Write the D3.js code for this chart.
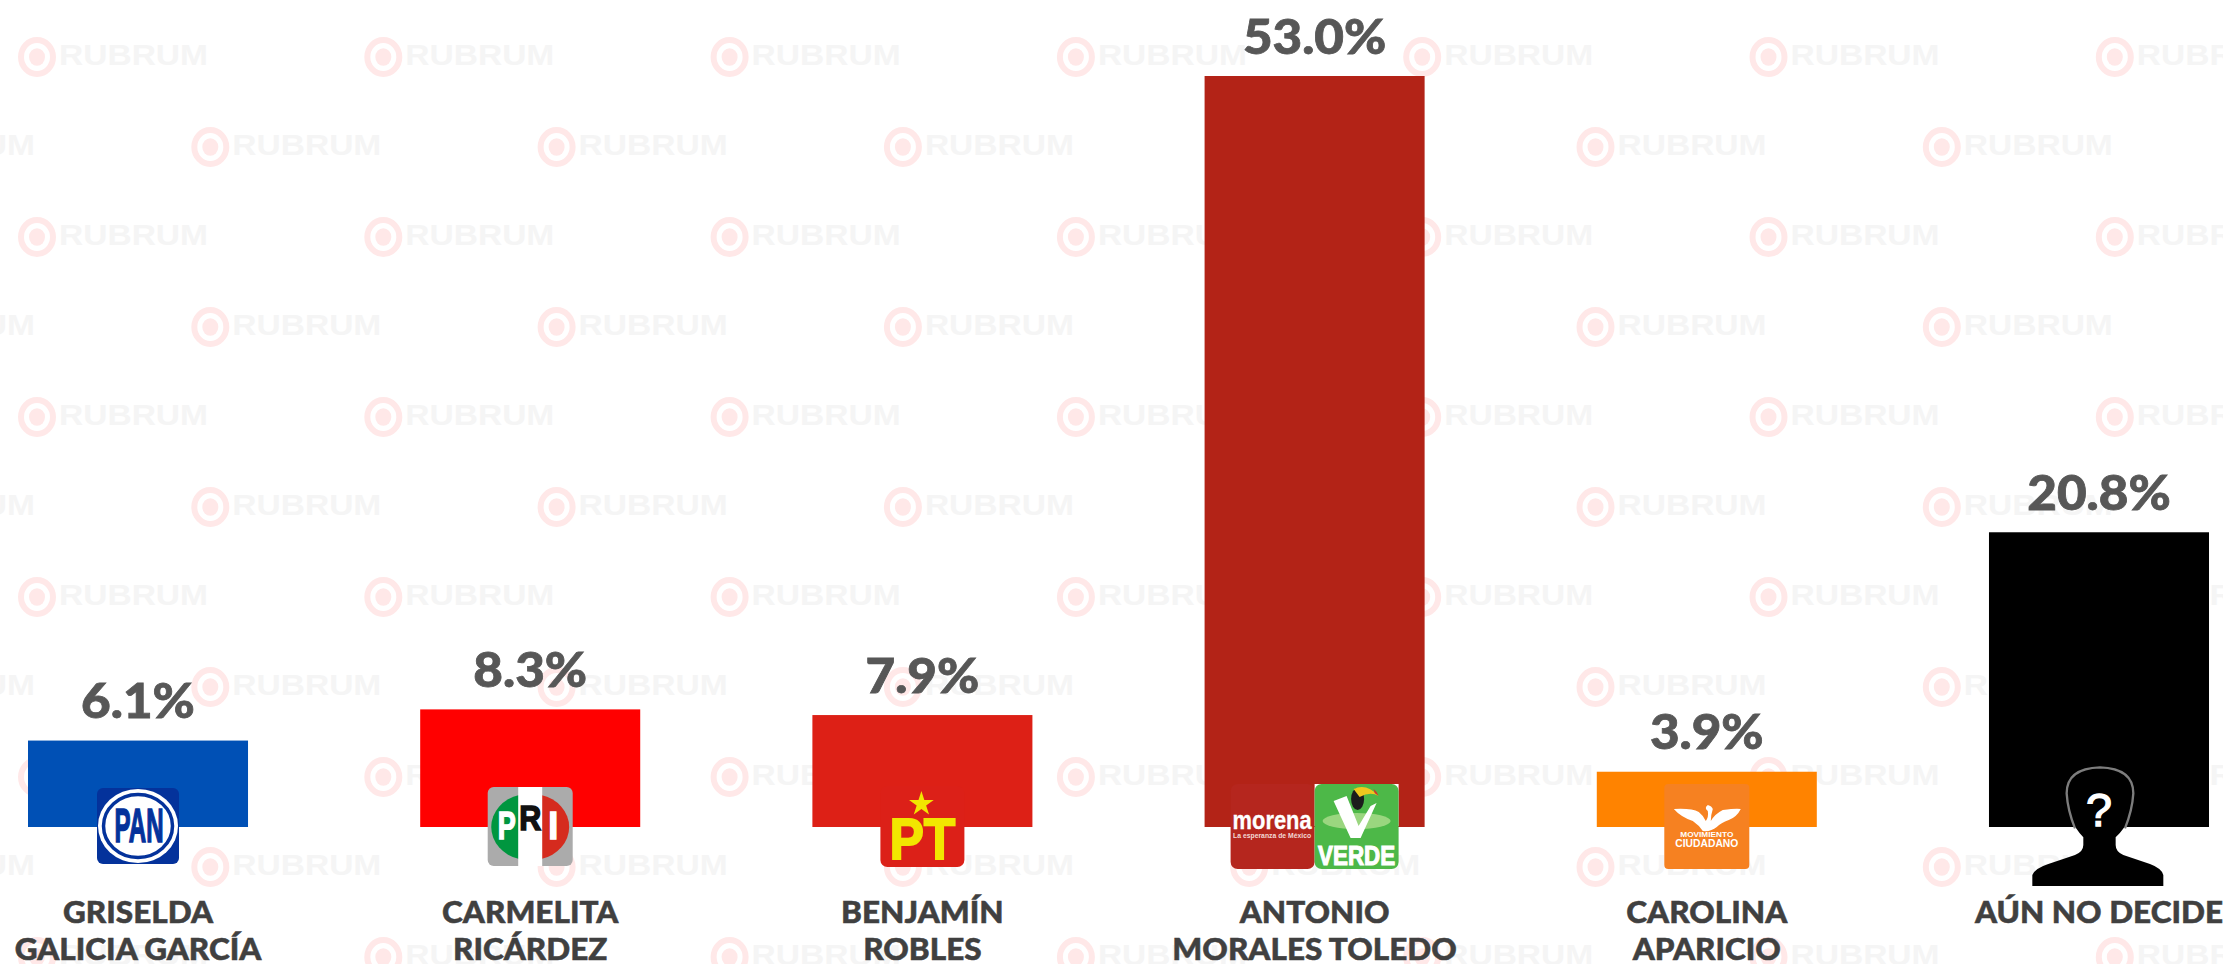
<!DOCTYPE html>
<html lang="es">
<head>
<meta charset="utf-8">
<script src="https://cdn.jsdelivr.net/npm/d3@7"></script>
<style>
html,body{margin:0;padding:0;background:#fff;overflow:hidden}
svg{display:block}
</style>
</head>
<body>
<svg id="chart" width="2223" height="964"></svg>
<script>
const categories = ["PAN","PRI","PT","MORENA-VERDE","MC","NINGUNO"];
const nameLine1 = ["GRISELDA","CARMELITA","BENJAMÍN","ANTONIO","CAROLINA","AÚN NO DECIDE"];
const nameLine2 = ["GALICIA GARCÍA","RICÁRDEZ","ROBLES","MORALES TOLEDO","APARICIO",""];
const values = [6.1,8.3,7.9,53.0,3.9,20.8];
const barColors = ["#0050b5","#ff0000","#dd2016","#b32317","#ff8300","#000000"];

const W = 2223, H = 964, BASE = 827;
const FONT = "Lato, 'Open Sans', sans-serif";
const svg = d3.select("#chart");

/* watermark */
const wm = svg.append("g");
const wmRows = d3.range(0,11), wmCols = d3.range(-1,7);
wmRows.forEach(r => wmCols.forEach(c => {
  const x = 37 + c*346.3 + (r%2 ? 173.3 : 0), y = 57 + r*90;
  const g = wm.append("g").attr("transform",`translate(${x},${y})`);
  g.append("ellipse").attr("rx",16).attr("ry",17).attr("fill","none").attr("stroke","#ffe8e8").attr("stroke-width",6);
  g.append("ellipse").attr("rx",8).attr("ry",8.7).attr("fill","#ffe8e8");
  g.append("text").attr("x",22).attr("y",8).attr("font-family","'Liberation Sans',sans-serif").attr("font-weight",700)
    .attr("font-size",29).attr("textLength",149).attr("lengthAdjust","spacingAndGlyphs").attr("fill","#f5f5f5").text("RUBRUM");
}));

/* scales */
const x = d3.scaleBand().domain(categories).range([28,2209]).paddingInner(0.439).paddingOuter(0);
const y = d3.scaleLinear().domain([0,53]).range([BASE,76]);

/* bars */
svg.append("g").selectAll("rect").data(categories).join("rect")
  .attr("x",d=>x(d)).attr("width",x.bandwidth())
  .attr("y",(d,i)=>y(values[i])).attr("height",(d,i)=>y(0)-y(values[i]))
  .attr("fill",(d,i)=>barColors[i]);

/* stretches a text horizontally, as the heavier geometric typeface of the reference is wider than Lato */
function widen(sel,f){
  sel.each(function(){ const n=this; n.setAttribute("lengthAdjust","spacingAndGlyphs");
    n.setAttribute("textLength",n.getComputedTextLength()*f); });
}

/* value labels */
svg.append("g").selectAll("text").data(categories).join("text")
  .attr("x",d=>x(d)+x.bandwidth()/2).attr("y",(d,i)=>y(values[i])-22.5)
  .attr("text-anchor","middle").attr("font-family",FONT).attr("font-weight",900)
  .attr("font-size",48).attr("fill","#575757").attr("stroke","#575757").attr("stroke-width",0.8)
  .text((d,i)=>values[i].toFixed(1)+"%").call(widen,1.065);

/* name labels */
const names = svg.append("g");
categories.forEach((d,i)=>{
  const cx = x(d)+x.bandwidth()/2;
  [[nameLine1[i],923],[nameLine2[i],960]].forEach(([t,yy])=>{
    if(t) names.append("text").attr("x",cx).attr("y",yy).attr("text-anchor","middle")
      .attr("font-family",FONT).attr("font-weight",900).attr("font-size",30).attr("fill","#404040")
      .attr("stroke","#404040").attr("stroke-width",0.5).text(t).call(widen,1.05);
  });
});

/* party logos, in coordinates relative to the bar centre and baseline */
const logos = svg.append("g");
const cxOf = k => x(k)+x.bandwidth()/2;
const LOG = "'Liberation Sans',sans-serif";
function T(g,s,xx,yy,len,size,fill,sw=0){
  return g.append("text").attr("x",xx).attr("y",yy).attr("text-anchor","middle").attr("font-family",LOG)
   .attr("font-weight",700).attr("font-size",size).attr("textLength",len).attr("lengthAdjust","spacingAndGlyphs")
   .attr("fill",fill).attr("stroke",sw?fill:"none").attr("stroke-width",sw).text(s);
}
function R(g,xx,yy,w,h,fill,r=5){return g.append("rect").attr("x",xx).attr("y",yy).attr("width",w).attr("height",h).attr("rx",r).attr("fill",fill);}

/* PAN */
{ const g = logos.append("g").attr("transform",`translate(${cxOf("PAN")},${BASE})`);
  R(g,-41,-39,82,76,"#04329b",6);
  g.append("ellipse").attr("cy",-1).attr("rx",40).attr("ry",37).attr("fill","#fff");
  g.append("ellipse").attr("cy",-1).attr("rx",34.5).attr("ry",31.5).attr("fill","none").attr("stroke","#04329b").attr("stroke-width",3.5);
  T(g,"PAN",1,15,49,48,"#04329b",1.6);
}
/* PRI */
{ const g = logos.append("g").attr("transform",`translate(${cxOf("PRI")},${BASE})`);
  R(g,-42.5,-40,85,79,"#ababab",6);
  g.append("path").attr("d","M-11,-32 A37,33 0 0 0 -11,32 Z").attr("fill","#00963f");
  g.append("path").attr("d","M11,-32 A37,33 0 0 1 11,32 Z").attr("fill","#d52b1e");
  g.append("rect").attr("x",-12).attr("y",-40).attr("width",24).attr("height",79).attr("fill","#fff");
  T(g,"P",-23.5,12,18,38,"#fff",1.5);
  T(g,"R",0,3,22,35,"#111",1.6);
  T(g,"I",23,12,10,38,"#fff",1.5);
}
/* PT */
{ const g = logos.append("g").attr("transform",`translate(${cxOf("PT")},${BASE})`);
  R(g,-42,-41,84,81,"#dc2018",7);
  g.append("path").attr("d",d3.symbol(d3.symbolStar,190)()).attr("transform","translate(-1,-23)").attr("fill","#f2e600");
  T(g,"PT",0,32,66,58,"#f2e600",1.8);
}
/* MORENA + VERDE */
{ const g = logos.append("g").attr("transform",`translate(${cxOf("MORENA-VERDE")},${BASE})`);
  R(g,-84,-43,84,85,"#b5261e",7);
  T(g,"morena",-42.5,2,79,25,"#fff",0.3);
  T(g,"La esperanza de México",-42.5,11,78,8,"#f3d8d5");
  g.append("rect").attr("x",0).attr("y",-43).attr("width",84).attr("height",42).attr("fill","#fff");
  R(g,0,-43,84,85,"#4db848",7);
  g.append("ellipse").attr("cx",42).attr("cy",-6).attr("rx",34).attr("ry",8).attr("fill","#9ad67f");
  g.append("path").attr("d","M19,-26 L32,-31 L44,-1 L56,-21 L62,-24 L46,11 L36,11 Z").attr("fill","#fff");
  g.append("ellipse").attr("cx",43).attr("cy",-28).attr("rx",6.5).attr("ry",11).attr("fill","#1c1c1c");
  g.append("path").attr("d","M39,-38 Q52,-44 64,-31 Q56,-36 45,-30 Z").attr("fill","#f0c81e");
  g.append("path").attr("d","M59,-38 Q63,-35 64,-31 L60,-34 Z").attr("fill","#d0342c");
  T(g,"VERDE",42,38,77,28,"#fff",1.2);
}
/* MC */
{ const g = logos.append("g").attr("transform",`translate(${cxOf("MC")},${BASE})`);
  R(g,-42.5,-43,85,85,"#f68121",4);
  g.append("path").attr("d","M-33,-18 Q-15,-19 -8,-15 Q-3,-11 -1,-6 Q2,-10 1,-16 Q-3,-19 1,-22 Q5,-21 6,-18 Q4,-12 4,-6 Q8,-13 16,-17 Q30,-19 34,-18 Q30,-10 22,-7 Q14,-4 10,0 Q4,5 -4,4 Q-8,-2 -14,-6 Q-26,-10 -33,-18 Z").attr("fill","#fff");
  T(g,"MOVIMIENTO",0,10,53,7,"#fff");
  T(g,"CIUDADANO",0,20,63,10.5,"#fff");
}
/* Undecided silhouette */
{ const g = logos.append("g").attr("transform",`translate(${cxOf("NINGUNO")},${BASE}) scale(${1/3}) translate(-222,-201)`);
  g.append("path").attr("d","M22,378 L22,345 Q30,325 70,312 L150,285 Q175,275 175,255 L175,232 Q150,205 135,170 Q125,130 125,100 Q125,25 225,22 Q325,25 325,100 Q325,130 315,170 Q300,205 272,232 L272,255 Q272,275 295,285 L375,312 Q410,325 415,345 L415,378 Z").attr("fill","#000");
  g.append("path").attr("d","M150,205 Q128,150 125,100 Q125,25 225,22 Q325,25 325,100 Q322,150 300,205").attr("fill","none").attr("stroke","#7d7d7d").attr("stroke-width",7);
  g.append("text").attr("x",222).attr("y",198).attr("text-anchor","middle").attr("font-family","'Liberation Sans',sans-serif").attr("font-weight",400).attr("font-size",140).attr("fill","#fff").attr("stroke","#fff").attr("stroke-width",4).text("?");
}
</script>
</body>
</html>
